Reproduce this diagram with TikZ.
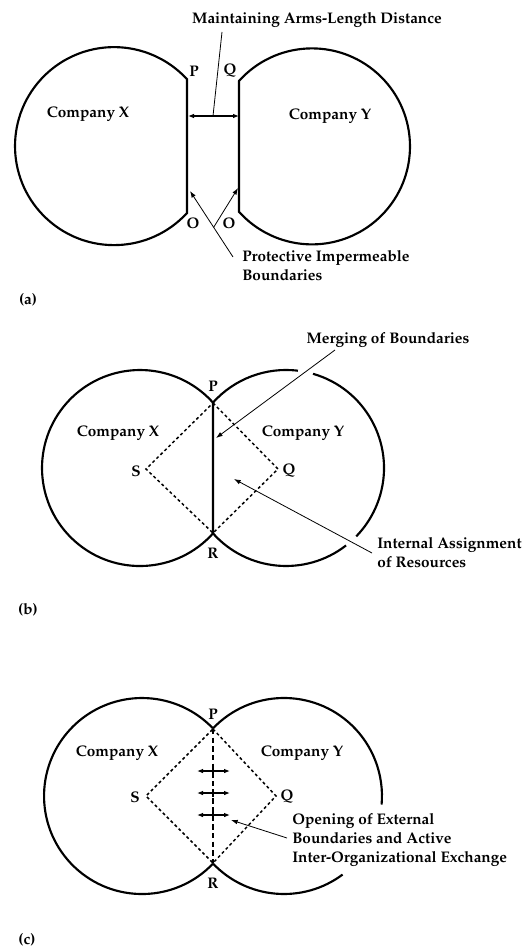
\documentclass[tikz,border=0pt]{standalone}
\usepackage{amsmath,amssymb}
\usepackage[T1]{fontenc}
\usepackage{xcolor}
\usepackage{tikz}
\usetikzlibrary{calc,arrows.meta}
\usetikzlibrary{positioning}
\renewcommand{\rmdefault}{ppl}

\begin{document}
\begin{tikzpicture}[x=0.75pt,y=0.75pt,yscale=-1,xscale=1,
  bnd/.style={line width=1.6pt},
  lbl/.style={inner sep=0.75pt,font=\fontsize{11.5}{14.2}\selectfont\bfseries},
  lead/.style={line width=0.6pt,-{Latex[length=5pt,width=3.5pt]}},
  dia/.style={line width=1.1pt,dash pattern=on 2.2pt off 2pt},
  xchg/.style={line width=0.9pt,{Latex[length=4.5pt,width=3.5pt]}-{Latex[length=4.5pt,width=3.5pt]}}]
\useasboundingbox (0,0) rectangle (529,949);

%%%%%% (a)
%Shape: Company X cut off [id:a1]
\draw [bnd] (187,213) arc [start angle=42.5, end angle=317.5, radius=99] -- cycle;
%Shape: Company Y cut off [id:a2]
\draw [bnd] (239,81) arc [start angle=221.85, end angle=498.15, radius=98] -- cycle;

% Text Node
\node [lbl] (arms) at (317,20) {Maintaining Arms-Length Distance};
% Text Node
\node [lbl] (Pa) at (194,71) {P};
% Text Node
\node [lbl] (Qa) at (230,71) {Q};
% Text Node
\node [lbl] (Oa) at (193,223) {O};
% Text Node
\node [lbl] (Ob) at (229,223) {O};
% Text Node
\node [lbl] (Xa) at (88,114) {Company X};
% Text Node
\node [lbl] (Ya) at (330,116) {Company Y};
% Text Node
\node [lbl,anchor=north west,align=left] (prot) at (241,249) {Protective Impermeable\\Boundaries};
% Text Node
\node [lbl] (capa) at (28,300) {(a)};

\coordinate (aL) at (188,116);
\coordinate (aR) at (239,116);
\coordinate (aMid) at (213,116);
\coordinate (armsFoot) at (222,32);
%Straight Lines [id:a3]
\draw [xchg] (aL) -- (aR);
\draw [line width=0.6pt] (aMid) -- (armsFoot);

\coordinate (protFoot) at (233,257);
\coordinate (hitX) at (190,191);
\coordinate (hitY) at (238,188);
\coordinate (fork) at ($(protFoot)!0.45!(hitX)$);
%Straight Lines [id:a4]
\draw [lead] (protFoot) -- (hitX);
\draw [lead] (fork) -- (hitY);

%%%%%% (b)
%Shape: Company X merged [id:b1]
\draw [bnd] (213,533.4) arc [start angle=41.85, end angle=318.15, radius=98] -- cycle;
%Shape: Company Y merged, broken where the leaders cross [id:b2]
\coordinate (cYb) at (286,468);
\draw [bnd] (213,402.6) arc [start angle=221.85, end angle=277, radius=98];
\draw [bnd] ($(cYb)+(286:98)$) arc [start angle=286, end angle=404.2, radius=98];
\draw [bnd] ($(cYb)+(412.2:98)$) arc [start angle=412.2, end angle=498.15, radius=98];

\coordinate (Pb) at (213,403);
\coordinate (Qb) at (278,469);
\coordinate (Rb) at (213,533);
\coordinate (Sb) at (146,469);
%Dashed diamond [id:b3]
\draw [dia] (Pb) -- (Qb) -- (Rb) -- (Sb) -- cycle;

% Text Node
\node [lbl] (lPb) at (213,386) {P};
% Text Node
\node [lbl] (lRb) at (213,553) {R};
% Text Node
\node [lbl] (lSb) at (136,471) {S};
% Text Node
\node [lbl] (lQb) at (289,471) {Q};
% Text Node
\node [lbl] (Xb) at (118,433) {Company X};
% Text Node
\node [lbl] (Yb) at (303,433) {Company Y};
% Text Node
\node [lbl] (merg) at (388,340) {Merging of Boundaries};
% Text Node
\node [lbl,anchor=north west,align=left] (intl) at (376,536) {Internal Assignment\\of Resources};
% Text Node
\node [lbl] (capb) at (28,610) {(b)};

\coordinate (mergFoot) at (335,350);
\coordinate (mergHit) at (216,438);
\coordinate (intlFoot) at (372,553);
\coordinate (intlHit) at (234,479);
%Straight Lines [id:b4]
\draw [lead] (mergFoot) -- (mergHit);
\draw [lead] (intlFoot) -- (intlHit);

%%%%%% (c)
%Shape: Company X open [id:c1]
\draw [bnd] (213,863.6) arc [start angle=43.6, end angle=316.4, radius=98];
%Shape: Company Y open, broken behind the text [id:c2]
\coordinate (cYc) at (284,796);
\draw [bnd] (213,728.4) arc [start angle=223.6, end angle=365, radius=98];
\draw [bnd] ($(cYc)+(413.3:98)$) arc [start angle=413.3, end angle=496.4, radius=98];

\coordinate (Pc) at (213,729);
\coordinate (Qc) at (276,796);
\coordinate (Rc) at (213,863);
\coordinate (Sc) at (146,796);
%Dashed diamond and opened boundary [id:c3]
\draw [dia] (Pc) -- (Qc) -- (Rc) -- (Sc) -- cycle;
\draw [line width=1.6pt,dash pattern=on 4pt off 2.5pt] (Pc) -- (Rc);
%Exchange arrows [id:c4]
\foreach \yy in {771,793,815} {
  \draw [xchg] (197,\yy) -- (230,\yy);
  \draw [line width=0.8pt] (213,\yy-4) -- (213,\yy+4);
}

% Text Node
\node [lbl] (lPc) at (213,714) {P};
% Text Node
\node [lbl] (lRc) at (213,883) {R};
% Text Node
\node [lbl] (lSc) at (135,797) {S};
% Text Node
\node [lbl] (lQc) at (287,797) {Q};
% Text Node
\node [lbl] (Xc) at (117,753) {Company X};
% Text Node
\node [lbl] (Yc) at (302,753) {Company Y};
% Text Node
\node [lbl,anchor=north west,align=left] (open) at (291,812) {Opening of External\\Boundaries and Active\\Inter-Organizational Exchange};
% Text Node
\node [lbl] (capc) at (27,940) {(c)};

\coordinate (openFoot) at (287,838);
\coordinate (openHit) at (231,820);
%Straight Lines [id:c5]
\draw [lead] (openFoot) -- (openHit);

\end{tikzpicture}
\end{document}
